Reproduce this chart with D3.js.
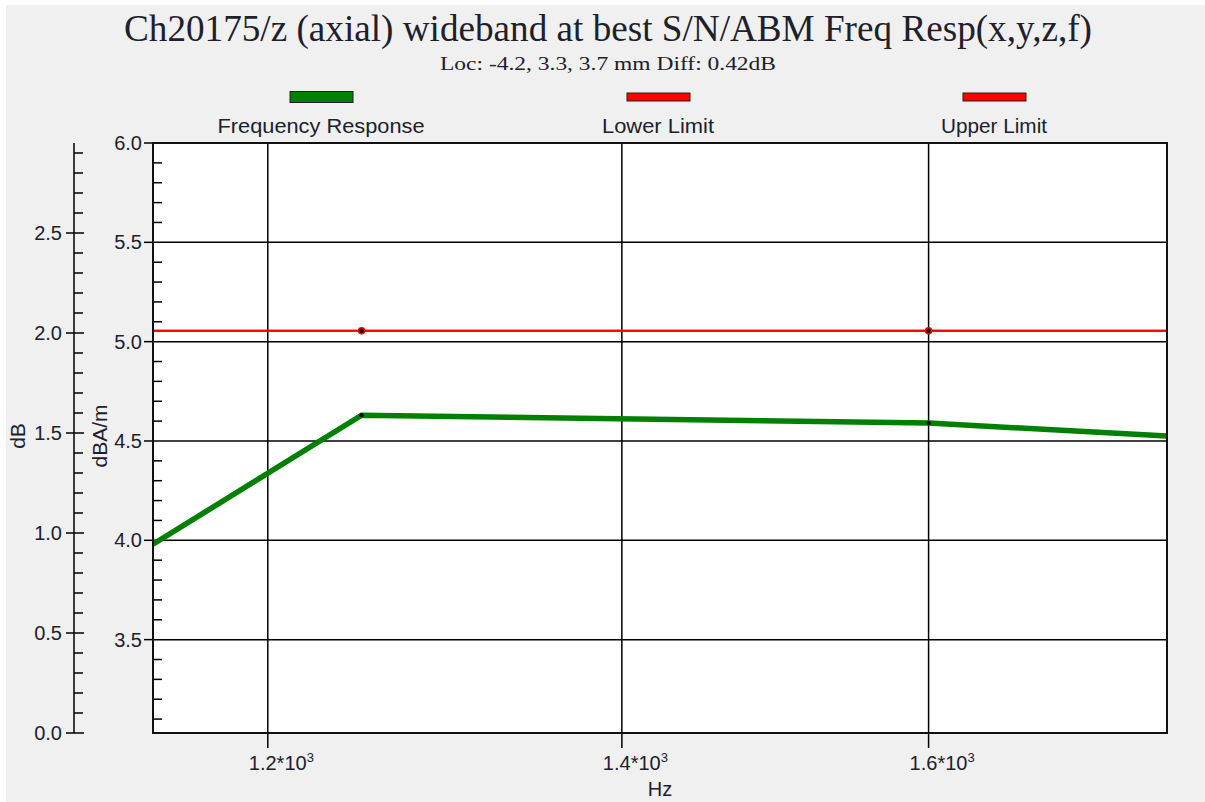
<!DOCTYPE html>
<html>
<head>
<meta charset="utf-8">
<script src="https://cdn.jsdelivr.net/npm/d3@7"></script>
<style>
  body { margin: 0; background: #fff; }
  svg { display: block; }
  text { font-family: "Liberation Sans", Arial, sans-serif; fill: #20202c; }
</style>
</head>
<body>
<div id="chart"></div>
<script>
// chart data
const freqHz = [1141.5, 1250, 1600, 1775];
const freqResp = [3.98, 4.63, 4.59, 4.525];          // dBA/m
const limitHz = [1141.5, 1250, 1600, 1775];
const lowerLimit = [5.055, 5.055, 5.055, 5.055];     // dBA/m
const upperLimit = [5.055, 5.055, 5.055, 5.055];     // dBA/m
const markerHz = [1250, 1600];

const xTicks = [1200, 1400, 1600];
const xTickLabels = ["1.2", "1.4", "1.6"];
const innerTicks = [3.5, 4.0, 4.5, 5.0, 5.5, 6.0];
const outerTicks = [0.0, 0.5, 1.0, 1.5, 2.0, 2.5];
const legendNames = ["Frequency Response", "Lower Limit", "Upper Limit"];
const legendColors = ["#008000", "#ff0000", "#ff0000"];

const W = 1205, H = 802;
const plot = { left: 153, right: 1167, top: 143, bottom: 733 };

const svg = d3.select("#chart").append("svg")
    .attr("width", W)
    .attr("height", H);

// grey panel
svg.append("rect")
    .attr("x", 6).attr("y", 5)
    .attr("width", W - 6).attr("height", H - 5)
    .attr("fill", "#f0f0f0");

// scales
const x = d3.scaleLog().domain([1141.5, 1775]).range([plot.left, plot.right]);
const yIn = d3.scaleLinear().domain([3.03, 6.0]).range([plot.bottom, plot.top]);
const yOut = d3.scaleLinear().domain([0, 2.95]).range([plot.bottom, plot.top]);

// title + subtitle
svg.append("text")
    .attr("x", 608).attr("y", 41)
    .attr("text-anchor", "middle")
    .style("font-family", "'Liberation Serif', 'Times New Roman', serif")
    .style("font-size", "37px")
    .attr("textLength", 968)
    .attr("lengthAdjust", "spacingAndGlyphs")
    .text("Ch20175/z (axial) wideband at best S/N/ABM Freq Resp(x,y,z,f)");

svg.append("text")
    .attr("x", 608).attr("y", 70)
    .attr("text-anchor", "middle")
    .style("font-family", "'Liberation Serif', 'Times New Roman', serif")
    .style("font-size", "19px")
    .attr("textLength", 336)
    .attr("lengthAdjust", "spacingAndGlyphs")
    .text("Loc: -4.2, 3.3, 3.7 mm Diff: 0.42dB");

// legend
const legendX = [321, 658, 994];
const legendW = [207, 112, 106];
legendNames.forEach(function(name, i) {
    let thick = i == 0 ? 11 : 8;
    svg.append("rect")
        .attr("x", legendX[i] - 31).attr("y", 97 - thick / 2)
        .attr("width", 63).attr("height", thick)
        .attr("fill", legendColors[i])
        .attr("stroke", "#222")
        .attr("stroke-width", 1);
    svg.append("text")
        .attr("x", legendX[i]).attr("y", 133)
        .attr("text-anchor", "middle")
        .style("font-size", "21px")
        .attr("textLength", legendW[i])
        .attr("lengthAdjust", "spacingAndGlyphs")
        .text(name);
});

// plot background
svg.append("rect")
    .attr("x", plot.left).attr("y", plot.top)
    .attr("width", plot.right - plot.left)
    .attr("height", plot.bottom - plot.top)
    .attr("fill", "#fff");

// grid lines
svg.append("g").selectAll("line")
    .data(innerTicks.filter(function(d) { return d < 6; }))
    .join("line")
    .attr("x1", plot.left).attr("x2", plot.right)
    .attr("y1", function(d) { return yIn(d); })
    .attr("y2", function(d) { return yIn(d); })
    .attr("stroke", "#000").attr("stroke-width", 1.5);

svg.append("g").selectAll("line")
    .data(xTicks)
    .join("line")
    .attr("x1", function(d) { return x(d); })
    .attr("x2", function(d) { return x(d); })
    .attr("y1", plot.top).attr("y2", plot.bottom + 15)
    .attr("stroke", "#000").attr("stroke-width", 1.5);

// inner axis (dBA/m)
const innerMinor = d3.range(31, 60).map(function(d) { return d / 10; })
    .filter(function(d) { return Math.round(d * 10) % 5 != 0; });
svg.append("g").selectAll("line")
    .data(innerMinor)
    .join("line")
    .attr("x1", plot.left).attr("x2", plot.left + 9)
    .attr("y1", function(d) { return yIn(d); })
    .attr("y2", function(d) { return yIn(d); })
    .attr("stroke", "#000").attr("stroke-width", 1.5);
svg.append("g").selectAll("line")
    .data(innerTicks)
    .join("line")
    .attr("x1", plot.left - 9).attr("x2", plot.left)
    .attr("y1", function(d) { return yIn(d); })
    .attr("y2", function(d) { return yIn(d); })
    .attr("stroke", "#000").attr("stroke-width", 1.5);
svg.append("g").selectAll("text")
    .data(innerTicks)
    .join("text")
    .attr("x", plot.left - 11)
    .attr("y", function(d) { return yIn(d) + 7; })
    .attr("text-anchor", "end")
    .style("font-size", "20px")
    .text(function(d) { return d.toFixed(1); });

// outer axis (dB)
const axX = 74;
svg.append("line")
    .attr("x1", axX).attr("x2", axX)
    .attr("y1", plot.top).attr("y2", plot.bottom)
    .attr("stroke", "#000").attr("stroke-width", 1.5);
const outerMinor = d3.range(1, 30).map(function(d) { return d / 10; })
    .filter(function(d) { return Math.round(d * 10) % 5 != 0; });
svg.append("g").selectAll("line")
    .data(outerMinor)
    .join("line")
    .attr("x1", axX).attr("x2", axX + 9)
    .attr("y1", function(d) { return yOut(d); })
    .attr("y2", function(d) { return yOut(d); })
    .attr("stroke", "#000").attr("stroke-width", 1.5);
svg.append("g").selectAll("line")
    .data(outerTicks)
    .join("line")
    .attr("x1", axX - 8).attr("x2", axX + 10)
    .attr("y1", function(d) { return yOut(d); })
    .attr("y2", function(d) { return yOut(d); })
    .attr("stroke", "#000").attr("stroke-width", 1.5);
svg.append("g").selectAll("text")
    .data(outerTicks)
    .join("text")
    .attr("x", axX - 12)
    .attr("y", function(d) { return yOut(d) + 7; })
    .attr("text-anchor", "end")
    .style("font-size", "20px")
    .text(function(d) { return d.toFixed(1); });

// axis titles
svg.append("text")
    .attr("transform", "translate(25,436) rotate(-90)")
    .attr("text-anchor", "middle")
    .style("font-size", "21px")
    .text("dB");
svg.append("text")
    .attr("transform", "translate(107,436) rotate(-90)")
    .attr("text-anchor", "middle")
    .style("font-size", "21px")
    .text("dBA/m");

// x tick labels
const xl = svg.append("g").selectAll("text")
    .data(xTicks)
    .join("text")
    .attr("x", function(d) { return x(d) - 19; })
    .attr("y", 770)
    .style("font-size", "20px");
xl.append("tspan").text(function(d, i) { return xTickLabels[i] + "*10"; });
xl.append("tspan").attr("dy", -8).style("font-size", "13px").text("3");

svg.append("text")
    .attr("x", 660).attr("y", 796)
    .attr("text-anchor", "middle")
    .style("font-size", "20px")
    .text("Hz");

// series
const line = d3.line()
    .x(function(d) { return x(d[0]); })
    .y(function(d) { return yIn(d[1]); });

svg.append("clipPath").attr("id", "clip")
    .append("rect")
    .attr("x", plot.left).attr("y", plot.top)
    .attr("width", plot.right - plot.left)
    .attr("height", plot.bottom - plot.top);

const series = svg.append("g").attr("clip-path", "url(#clip)");

[lowerLimit, upperLimit].forEach(function(vals) {
    series.append("path")
        .datum(limitHz.map(function(f, i) { return [f, vals[i]]; }))
        .attr("d", line)
        .attr("fill", "none")
        .attr("stroke", "#ff0000")
        .attr("stroke-width", 2);
});

series.append("path")
    .datum(freqHz.map(function(f, i) { return [f, freqResp[i]]; }))
    .attr("d", line)
    .attr("fill", "none")
    .attr("stroke", "#008000")
    .attr("stroke-width", 5.5);

// point markers
markerHz.forEach(function(f) {
    let i = limitHz.indexOf(f);
    series.append("circle")
        .attr("cx", x(f)).attr("cy", yIn(upperLimit[i]))
        .attr("r", 3)
        .attr("fill", "#000")
        .attr("stroke", "#ff0000").attr("stroke-width", 1.5);
    let j = freqHz.indexOf(f);
    series.append("circle")
        .attr("cx", x(f)).attr("cy", yIn(freqResp[j]))
        .attr("r", 2.2)
        .attr("fill", "#000");
});

// plot frame
svg.append("rect")
    .attr("x", plot.left).attr("y", plot.top)
    .attr("width", plot.right - plot.left)
    .attr("height", plot.bottom - plot.top)
    .attr("fill", "none")
    .attr("stroke", "#111")
    .attr("stroke-width", 2);
</script>
</body>
</html>
